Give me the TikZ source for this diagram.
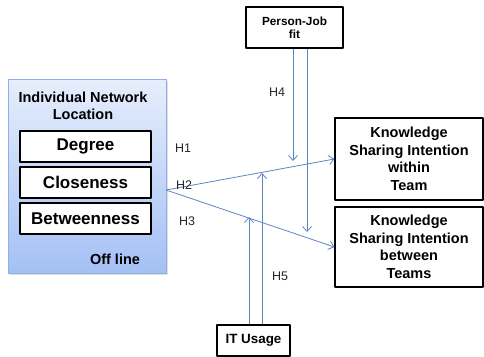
\documentclass[tikz,border=0pt]{standalone}
\usepackage{fontspec}
\setmainfont{Liberation Sans}
\usetikzlibrary{arrows.meta,shadows}
\definecolor{lnblue}{HTML}{5B86C4}
\definecolor{boxtop}{HTML}{E6EEFC}
\definecolor{boxbot}{HTML}{A4C0F4}
\definecolor{boxline}{HTML}{8EB0E6}
\begin{document}
\begin{tikzpicture}[x=1pt,y=-1pt,line join=round,>={Straight Barb[length=5pt,width=9pt]},
	measure/.style={draw,line width=1.2pt,minimum width=131pt,minimum height=31pt,inner sep=0pt,font=\fontsize{17}{17}\selectfont\bfseries},
	var/.style={draw,line width=1.2pt,align=center,inner sep=0pt,font=\fontsize{14.5}{17.5}\selectfont\bfseries},
	hyp/.style={font=\fontsize{12.5}{12.5}\selectfont,text=black!85},
	link/.style={->,draw=lnblue,line width=0.8pt}]
	\useasboundingbox (0,0) rectangle (484,356);
	% individual network location
	\node[draw=boxline,top color=boxtop,bottom color=boxbot,drop shadow={opacity=0.25,shadow xshift=1.5pt,shadow yshift=-1.5pt},minimum width=158pt,minimum height=194pt,inner sep=0pt] (net) at (87,176) {};
	\node[align=center,font=\fontsize{14.5}{17}\selectfont\bfseries] (title) at (83,106) {Individual Network\\Location};
	\node[measure,fill=white] (deg) at (85.5,146.5) {Degree};
	\node[measure,fill=white] (clo) at (85.5,182.5) {Closeness};
	\node[measure,fill=white] (bet) at (85.5,218.5) {Betweenness};
	\node[font=\fontsize{14.5}{14.5}\selectfont\bfseries] (off) at (115,259) {Off line};
	% moderators and outcomes
	\node[var,minimum width=97pt,minimum height=41pt,font=\fontsize{11.8}{13.3}\selectfont\bfseries] (pj) at (294.5,27.5) {Person-Job\\fit};
	\node[var,minimum width=148pt,minimum height=82pt] (within) at (409,159) {Knowledge\\Sharing Intention\\within\\Team};
	\node[var,minimum width=148pt,minimum height=80pt] (between) at (409,247) {Knowledge\\Sharing Intention\\between\\Teams};
	\node[var,minimum width=73pt,minimum height=31pt,font=\fontsize{13.4}{13.4}\selectfont\bfseries] (it) at (253.5,340.5) {IT Usage};
	% links
	\coordinate (src) at (166,190);
	\draw[link] (src) -- (within.west);
	\draw[link] (src) -- (between.west);
	\coordinate (h4a) at (293,161);
	\coordinate (h4b) at (307,232);
	\coordinate (h5a) at (249,217);
	\coordinate (h5b) at (262,173);
	\draw[link] (pj.south -| h4a) -- (h4a);
	\draw[link] (pj.south -| h4b) -- (h4b);
	\draw[link] (it.north -| h5a) -- (h5a);
	\draw[link] (it.north -| h5b) -- (h5b);
	\node[hyp] (h1) at (183,148) {H1};
	\node[hyp] (h2) at (184,185) {H2};
	\node[hyp] (h3) at (187,221) {H3};
	\node[hyp] (h4) at (277,92) {H4};
	\node[hyp] (h5) at (280,276) {H5};
\end{tikzpicture}
\end{document}
